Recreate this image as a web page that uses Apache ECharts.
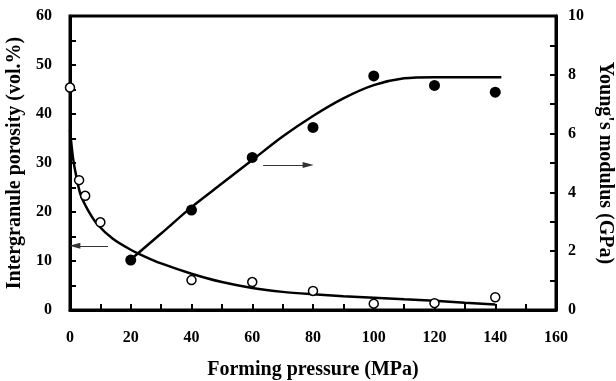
<!DOCTYPE html>
<html>
<head>
<meta charset="utf-8">
<script src="https://cdn.jsdelivr.net/npm/echarts@6/dist/echarts.min.js"></script>
<style>
  html, body { margin: 0; padding: 0; background: #fff; }
  #chart { width: 616px; height: 381px; }
</style>
</head>
<body>
<div id="chart"></div>
<script>
// measured points (open circles = porosity, filled = Young's modulus)
const porosityX = [0, 3, 5, 10, 40, 60, 80, 100, 120, 140];
const porosityY = [45.4, 26.5, 23.3, 17.9, 6.1, 5.7, 3.9, 1.3, 1.4, 2.6];
const modulusX = [20, 40, 60, 80, 100, 120, 140];
const modulusY = [1.7, 3.4, 5.19, 6.21, 7.96, 7.64, 7.41];

// fitted curves
const porosityFitX = [0, 1, 2, 3.5, 6, 9, 14, 20, 25, 30, 40, 50, 60, 70, 80, 90, 100, 110, 120, 130, 140];
const porosityFitY = [36.7, 31, 27.5, 23.5, 20.3, 17.5, 14.6, 12.3, 10.8, 9.5, 7.4, 5.7, 4.5, 3.7, 3.2, 2.8, 2.5, 2.2, 1.9, 1.5, 1.1];
const modulusFitX = [20, 30, 40, 50, 60, 70, 80, 90, 100, 110, 120, 130, 142];
const modulusFitY = [1.72, 2.6, 3.5, 4.3, 5.1, 5.9, 6.6, 7.2, 7.65, 7.88, 7.92, 7.92, 7.92];

// arrows: [fromX, toX, y]
const leftArrow = [12.5, 1.6, 13.1];
const rightArrow = [63.6, 78.4, 4.93];

const FONT = 'Liberation Serif';
const zip = (xs, ys) => xs.map((x, i) => [x, ys[i]]);

const chart = echarts.init(document.getElementById('chart'));

const labelStyle = { color: '#000', fontFamily: FONT, fontWeight: 'bold', fontSize: 16 };
const nameStyle = { color: '#000', fontFamily: FONT, fontWeight: 'bold', fontSize: 20 };
const tickStyle = { color: '#000', width: 2 };

function arrowLine(a) {
  return {
    silent: true,
    symbol: ['none', 'triangle'],
    symbolSize: [6, 11],
    label: { show: false },
    lineStyle: { color: '#333', width: 1.2, type: 'solid' },
    data: [[{ coord: [a[0], a[2]] }, { coord: [a[1], a[2]] }]]
  };
}

chart.setOption({
  animation: false,
  grid: {
    left: 70, right: 60, top: 16, bottom: 71,
    outerBoundsMode: 'none', containLabel: false,
    show: true, borderColor: '#000', borderWidth: 3
  },
  xAxis: {
    type: 'value', min: 0, max: 160, interval: 20,
    name: 'Forming pressure (MPa)', nameLocation: 'middle', nameGap: 50,
    nameTextStyle: nameStyle,
    axisLine: { lineStyle: { color: '#000', width: 3 } },
    axisTick: { inside: true, length: 6, lineStyle: tickStyle },
    minorTick: { show: true, splitNumber: 2, length: 6, lineStyle: tickStyle },
    axisLabel: Object.assign({ margin: 20 }, labelStyle),
    splitLine: { show: false }
  },
  yAxis: [{
    type: 'value', min: 0, max: 60, interval: 10, position: 'left',
    name: 'Intergranule porosity (vol.%)', nameLocation: 'middle', nameGap: 33,
    nameTextStyle: nameStyle,
    axisLine: { show: true, lineStyle: { color: '#000', width: 3 } },
    axisTick: { inside: true, length: 6, lineStyle: tickStyle },
    minorTick: { show: true, splitNumber: 2, length: 6, lineStyle: tickStyle },
    axisLabel: Object.assign({ margin: 18 }, labelStyle),
    splitLine: { show: false }
  }, {
    type: 'value', min: 0, max: 10, interval: 2, position: 'right',
    name: "Young's modulus (GPa)", nameLocation: 'middle', nameGap: 30, nameRotate: -90,
    nameTextStyle: nameStyle,
    axisLine: { show: true, lineStyle: { color: '#000', width: 3 } },
    axisTick: { inside: true, length: 6, lineStyle: tickStyle },
    minorTick: { show: true, splitNumber: 2, length: 6, lineStyle: tickStyle },
    axisLabel: Object.assign({ margin: 12 }, labelStyle),
    splitLine: { show: false }
  }],
  series: [{
    type: 'line', yAxisIndex: 0, smooth: 0.3, showSymbol: false,
    lineStyle: { color: '#000', width: 2.5 },
    data: zip(porosityFitX, porosityFitY),
    markLine: arrowLine(leftArrow)
  }, {
    type: 'line', yAxisIndex: 1, smooth: 0.3, showSymbol: false,
    lineStyle: { color: '#000', width: 2.5 },
    data: zip(modulusFitX, modulusFitY),
    markLine: arrowLine(rightArrow)
  }, {
    type: 'scatter', yAxisIndex: 0, symbol: 'circle', symbolSize: 9,
    itemStyle: { color: '#fff', borderColor: '#000', borderWidth: 1.5, opacity: 1 },
    data: zip(porosityX, porosityY), z: 5
  }, {
    type: 'scatter', yAxisIndex: 1, symbol: 'circle', symbolSize: 11,
    itemStyle: { color: '#000', opacity: 1 },
    data: zip(modulusX, modulusY), z: 5
  }]
});
</script>
</body>
</html>
